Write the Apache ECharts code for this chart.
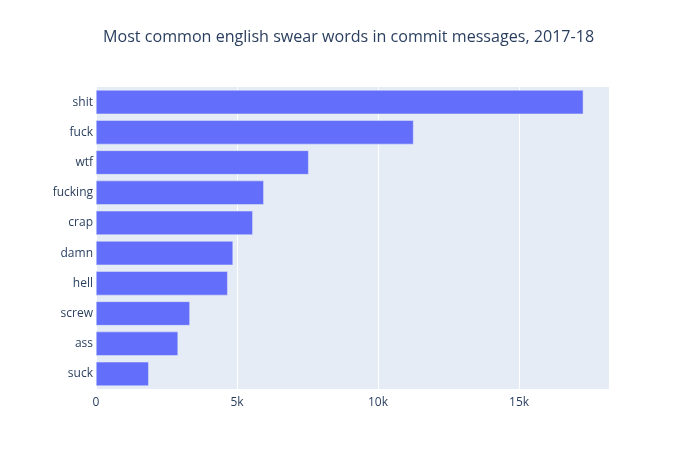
<!DOCTYPE html>
<html>
<head>
<meta charset="utf-8">
<script src="https://cdn.jsdelivr.net/npm/echarts@6/dist/echarts.min.js"></script>
<style>
  html, body { margin: 0; padding: 0; background: #fff; }
  #chart { width: 680px; height: 459px; }
</style>
</head>
<body>
<div id="chart"></div>
<script>
// swear words, most common first
const words = ["shit", "fuck", "wtf", "fucking", "crap", "damn", "hell", "screw", "ass", "suck"];
const counts = [17280, 11260, 7540, 5950, 5560, 4860, 4670, 3330, 2910, 1870];
const xTicks = [0, 5000, 10000, 15000];

const chart = echarts.init(document.getElementById("chart"));

const options = {
  backgroundColor: "#fff",
  title: {
    text: "Most common english swear words in commit messages, 2017-18",
    left: 98,
    top: 24,
    textStyle: {
      fontFamily: "Open Sans",
      fontSize: 16.1,
      fontWeight: "normal",
      color: "#2a3f5f",
    },
  },
  grid: {
    left: 96,
    right: 71,
    top: 87,
    bottom: 70,
    show: true,
    backgroundColor: "#E5ECF6",
    borderWidth: 0,
  },
  xAxis: {
    type: "value",
    min: 0,
    max: 18190,
    interval: 5000,
    axisLine: { show: false },
    axisTick: { show: false },
    splitLine: { lineStyle: { color: "#fff", width: 1 } },
    axisLabel: {
      showMaxLabel: false,
      margin: 8,
      fontFamily: "Open Sans",
      fontSize: 12,
      color: "#2a3f5f",
      formatter: (v) => (xTicks.includes(v) ? (v === 0 ? "0" : v / 1000 + "k") : ""),
    },
  },
  yAxis: {
    type: "category",
    data: words,
    inverse: true,
    axisLine: { show: false },
    axisTick: { show: false },
    splitLine: { show: false },
    axisLabel: {
      margin: 3,
      fontFamily: "Open Sans",
      fontSize: 12,
      color: "#2a3f5f",
    },
  },
  series: [
    {
      type: "bar",
      data: counts,
      barCategoryGap: "20%",
      itemStyle: {
        color: "#636efa",
        borderColor: "#E5ECF6",
        borderWidth: 0.5,
      },
    },
  ],
};

chart.setOption(options);
</script>
</body>
</html>
